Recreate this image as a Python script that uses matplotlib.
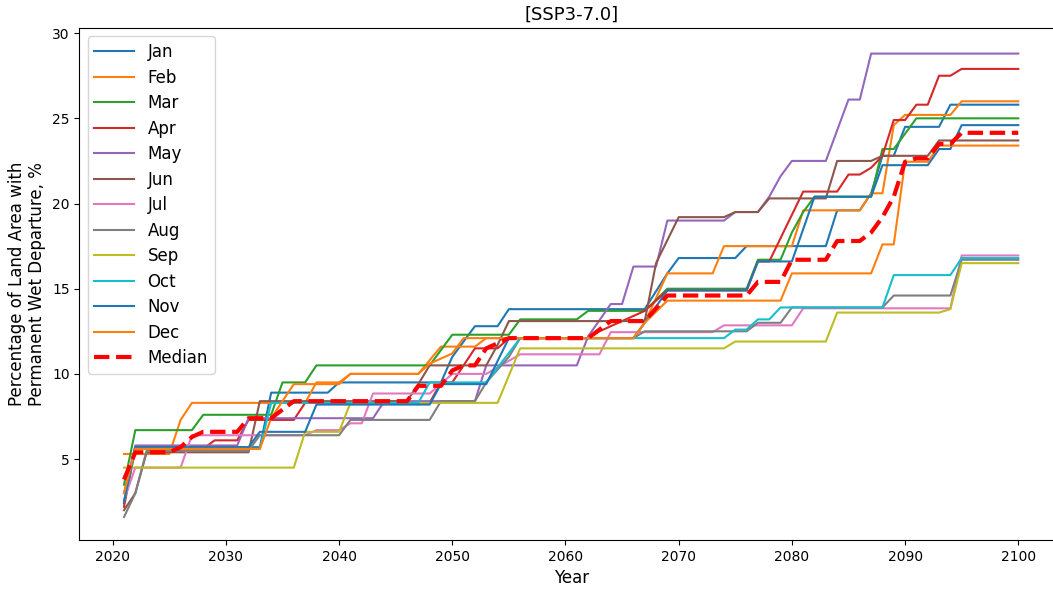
import numpy as np
import matplotlib.pyplot as plt

# change points of each series (year, % of land area); straight lines between them
jan_years = [2021, 2022, 2033, 2034, 2039, 2040, 2049, 2050, 2052, 2054, 2055, 2067, 2069, 2070, 2075, 2076, 2083, 2084, 2086, 2087, 2088, 2089, 2090, 2093, 2094, 2100]
jan_vals  = [2.4, 5.7, 5.7, 8.9, 8.9, 9.5, 9.5, 11.0, 12.8, 12.8, 13.8, 13.8, 15.9, 16.8, 16.8, 17.5, 17.5, 19.6, 19.6, 20.6, 22.8, 22.8, 24.5, 24.5, 25.8, 25.8]
feb_years = [2021, 2025, 2026, 2027, 2037, 2038, 2040, 2041, 2047, 2049, 2052, 2053, 2066, 2067, 2069, 2073, 2074, 2080, 2081, 2086, 2087, 2088, 2089, 2090, 2094, 2095, 2100]
feb_vals  = [5.3, 5.3, 7.3, 8.3, 8.3, 9.5, 9.5, 10.0, 10.0, 11.6, 11.6, 12.1, 12.1, 13.0, 15.9, 15.9, 17.5, 17.5, 19.6, 19.6, 20.6, 20.6, 24.6, 25.2, 25.2, 26.0, 26.0]
mar_years = [2021, 2022, 2027, 2028, 2034, 2035, 2037, 2038, 2048, 2050, 2055, 2056, 2061, 2062, 2067, 2069, 2076, 2077, 2079, 2080, 2081, 2082, 2087, 2088, 2089, 2091, 2100]
mar_vals  = [3.5, 6.7, 6.7, 7.6, 7.6, 9.5, 9.5, 10.5, 10.5, 12.3, 12.3, 13.2, 13.2, 13.7, 13.7, 15.0, 15.0, 16.7, 16.7, 18.3, 19.5, 20.4, 20.4, 23.2, 23.2, 25.0, 25.0]
apr_years = [2021, 2022, 2028, 2029, 2031, 2032, 2036, 2037, 2048, 2049, 2050, 2051, 2052, 2054, 2055, 2062, 2063, 2067, 2069, 2076, 2077, 2078, 2081, 2084, 2085, 2086, 2087, 2088, 2089, 2090, 2091, 2092, 2093, 2094, 2095, 2100]
apr_vals  = [2.2, 5.6, 5.6, 6.1, 6.1, 7.3, 7.3, 8.3, 8.3, 9.5, 9.5, 10.5, 11.5, 11.5, 12.1, 12.1, 12.5, 13.7, 14.9, 14.9, 16.6, 16.6, 20.7, 20.7, 21.7, 21.7, 22.1, 22.8, 24.9, 24.9, 25.8, 25.8, 27.5, 27.5, 27.9, 27.9]
may_years = [2021, 2022, 2031, 2032, 2043, 2044, 2052, 2053, 2061, 2062, 2064, 2065, 2066, 2068, 2069, 2074, 2075, 2077, 2078, 2079, 2080, 2083, 2084, 2085, 2086, 2087, 2100]
may_vals  = [3.0, 5.8, 5.8, 7.4, 7.4, 8.4, 8.4, 10.5, 10.5, 12.2, 14.1, 14.1, 16.3, 16.3, 19.0, 19.0, 19.5, 19.5, 20.4, 21.6, 22.5, 22.5, 24.3, 26.1, 26.1, 28.8, 28.8]
jun_years = [2021, 2022, 2023, 2032, 2033, 2046, 2047, 2048, 2053, 2054, 2055, 2067, 2068, 2070, 2074, 2075, 2077, 2078, 2083, 2084, 2087, 2088, 2092, 2093, 2100]
jun_vals  = [2.0, 3.0, 5.4, 5.4, 8.4, 8.4, 9.4, 10.5, 10.5, 11.7, 13.1, 13.1, 16.5, 19.2, 19.2, 19.5, 19.5, 20.3, 20.3, 22.5, 22.5, 22.8, 22.8, 23.7, 23.7]
jul_years = [2021, 2022, 2026, 2027, 2037, 2038, 2040, 2041, 2042, 2043, 2048, 2050, 2053, 2056, 2063, 2064, 2073, 2074, 2080, 2081, 2094, 2095, 2100]
jul_vals  = [2.6, 4.5, 4.5, 6.4, 6.4, 6.7, 6.7, 7.1, 7.1, 8.85, 8.85, 10.0, 10.0, 11.15, 11.15, 12.45, 12.45, 12.85, 12.85, 13.85, 13.85, 16.95, 16.95]
aug_years = [2021, 2022, 2023, 2032, 2033, 2040, 2041, 2048, 2049, 2052, 2053, 2055, 2056, 2066, 2067, 2076, 2077, 2079, 2080, 2088, 2089, 2094, 2095, 2100]
aug_vals  = [1.6, 3.0, 5.5, 5.5, 6.4, 6.4, 7.3, 7.3, 8.4, 8.4, 9.5, 11.0, 12.1, 12.1, 12.5, 12.5, 13.0, 13.0, 13.9, 13.9, 14.6, 14.6, 16.7, 16.7]
sep_years = [2021, 2036, 2037, 2040, 2041, 2054, 2056, 2074, 2075, 2083, 2084, 2093, 2094, 2095, 2100]
sep_vals  = [4.5, 4.5, 6.6, 6.6, 8.3, 8.3, 11.5, 11.5, 11.9, 11.9, 13.6, 13.6, 13.8, 16.5, 16.5]
oct_years = [2021, 2022, 2033, 2034, 2047, 2048, 2053, 2056, 2074, 2075, 2076, 2077, 2078, 2079, 2088, 2089, 2094, 2095, 2100]
oct_vals  = [2.5, 5.6, 5.6, 8.3, 8.3, 9.5, 9.5, 12.1, 12.1, 12.6, 12.6, 13.2, 13.2, 13.9, 13.9, 15.8, 15.8, 16.8, 16.8]
nov_years = [2021, 2022, 2032, 2033, 2037, 2038, 2048, 2049, 2053, 2055, 2066, 2067, 2069, 2076, 2077, 2080, 2081, 2082, 2087, 2088, 2092, 2093, 2094, 2095, 2100]
nov_vals  = [2.5, 5.7, 5.7, 6.6, 6.6, 8.2, 8.2, 9.4, 9.4, 12.1, 12.1, 13.0, 14.9, 14.9, 16.6, 16.6, 18.5, 20.4, 20.4, 22.25, 22.25, 23.2, 23.2, 24.6, 24.6]
dec_years = [2021, 2022, 2033, 2034, 2036, 2040, 2041, 2047, 2048, 2050, 2051, 2066, 2067, 2069, 2079, 2080, 2087, 2088, 2089, 2090, 2092, 2093, 2100]
dec_vals  = [3.0, 5.6, 5.6, 7.4, 9.4, 9.4, 10.0, 10.0, 10.6, 11.2, 12.1, 12.1, 13.0, 14.3, 14.3, 15.9, 15.9, 17.6, 17.6, 22.45, 22.45, 23.4, 23.4]
med_years = [2021, 2022, 2025, 2026, 2027, 2028, 2031, 2032, 2034, 2035, 2036, 2046, 2047, 2049, 2050, 2051, 2052, 2053, 2055, 2062, 2063, 2064, 2067, 2069, 2076, 2077, 2079, 2080, 2083, 2084, 2086, 2087, 2088, 2089, 2090, 2091, 2092, 2093, 2094, 2095, 2100]
med_vals  = [3.8, 5.4, 5.4, 5.7, 6.3, 6.6, 6.6, 7.4, 7.4, 7.9, 8.4, 8.4, 9.3, 9.3, 10.2, 10.5, 10.5, 11.5, 12.1, 12.1, 12.6, 13.1, 13.1, 14.6, 14.6, 15.4, 15.4, 16.7, 16.7, 17.8, 17.8, 18.3, 19.2, 20.4, 22.45, 22.65, 22.65, 23.5, 23.5, 24.15, 24.15]

months = ['Jan', 'Feb', 'Mar', 'Apr', 'May', 'Jun', 'Jul', 'Aug', 'Sep', 'Oct', 'Nov', 'Dec']
series = [(jan_years, jan_vals), (feb_years, feb_vals), (mar_years, mar_vals), (apr_years, apr_vals),
          (may_years, may_vals), (jun_years, jun_vals), (jul_years, jul_vals), (aug_years, aug_vals),
          (sep_years, sep_vals), (oct_years, oct_vals), (nov_years, nov_vals), (dec_years, dec_vals)]

fig = plt.figure(figsize=(10.53, 5.9), dpi=100)
ax = fig.add_axes([0.0753, 0.0847, 0.9342, 0.8678])

for name, (yrs, vals) in zip(months, series):
    ax.plot(yrs, vals, label=name, lw=1.5)
ax.plot(med_years, med_vals, 'r--', lw=3, label='Median')

ax.set_xlim(2017.05, 2103.95)
ax.set_ylim(0.25, 30.3)
ax.set_xticks(np.arange(2020, 2101, 10))
ax.set_yticks([5, 10, 15, 20, 25, 30])
ax.tick_params(labelsize=10)
ax.set_title('[SSP3-7.0]', fontsize=13)
ax.set_xlabel('Year', fontsize=12)
ax.set_ylabel('Percentage of Land Area with\nPermanent Wet Departure, %', fontsize=12)
ax.legend(loc='upper left', fontsize=12, handlelength=2.4, labelspacing=0.45)

fig.savefig('out.png', dpi=100)
